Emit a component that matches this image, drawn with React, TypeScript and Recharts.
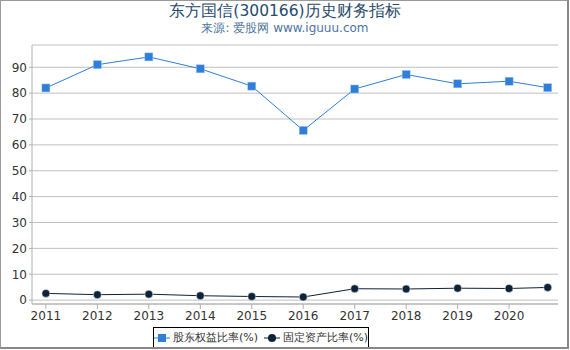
import React from 'react';
import { LineChart, Line, XAxis, YAxis, CartesianGrid } from 'recharts';

// x positions: years, last point is a partial year (Q3)
const years = [2011, 2012, 2013, 2014, 2015, 2016, 2017, 2018, 2019, 2020, 2020.75];
const equityRatio = [82.0, 91.0, 94.0, 89.4, 82.7, 65.6, 81.6, 87.2, 83.6, 84.6, 82.1];
const fixedAssetRatio = [2.6, 2.1, 2.3, 1.7, 1.4, 1.2, 4.4, 4.3, 4.6, 4.5, 4.9];
const xTicks = [2011, 2012, 2013, 2014, 2015, 2016, 2017, 2018, 2019, 2020];
const yTicks = [0, 10, 20, 30, 40, 50, 60, 70, 80, 90];

const data = years.map((x, i) => ({ x, equity: equityRatio[i], fixed: fixedAssetRatio[i] }));

const BLUE = '#2f7ed8';
const DARK = '#0d233a';
const FONT = '"DejaVu Sans", sans-serif';

const SquareDot = (props: any) => {
  const { cx, cy, index } = props;
  return <rect key={index} x={cx - 4} y={cy - 4} width={8} height={8} fill={BLUE} stroke="#9cc3f0" strokeWidth={0.5} />;
};

const CircleDot = (props: any) => {
  const { cx, cy, index } = props;
  return <circle key={index} cx={cx} cy={cy} r={4} fill={DARK} stroke="#fff" strokeWidth={0.5} />;
};

export default function App() {
  return (
    <div
      style={{
        position: 'absolute',
        left: 0,
        top: 0,
        width: 570,
        height: 350,
        fontFamily: FONT,
        background: '#fff',
      }}
    >
      <div
        style={{
          position: 'absolute',
          left: 0,
          top: 0,
          width: 566,
          height: 346,
          border: '2px solid #888',
          borderTop: '1px solid #999',
          borderLeft: '1px solid #999',
          pointerEvents: 'none',
          zIndex: 2,
        }}
      />
      <div style={{ position: 'absolute', left: 0, top: 1, width: 570, textAlign: 'center', fontSize: 15.5, color: '#274b6d' }}>
        东方国信(300166)历史财务指标
      </div>
      <div style={{ position: 'absolute', left: 0, top: 20, width: 570, textAlign: 'center', fontSize: 12, color: '#4d759e' }}>
        来源: 爱股网 www.iguuu.com
      </div>
      <LineChart width={570} height={350} data={data} margin={{ top: 45, right: 12, bottom: 16, left: 0 }}>
        <CartesianGrid vertical={false} stroke="#c0c0c0" />
        <XAxis
          dataKey="x"
          type="number"
          domain={[2010.73, 2020.95]}
          ticks={xTicks}
          interval={0}
          allowDataOverflow
          stroke="#b0b0b0"
          tickSize={5}
          tick={{ fill: '#333', fontSize: 12, fontFamily: FONT }}
        />
        <YAxis
          type="number"
          domain={[-1.5, 98.6]}
          ticks={yTicks}
          interval={0}
          allowDataOverflow
          width={32}
          stroke="#b0b0b0"
          tickSize={3}
          tick={{ fill: '#333', fontSize: 12, fontFamily: FONT }}
        />
        <Line
          dataKey="equity"
          stroke={BLUE}
          strokeWidth={1}
          dot={SquareDot}
          activeDot={false}
          isAnimationActive={false}
        />
        <Line
          dataKey="fixed"
          stroke={DARK}
          strokeWidth={1}
          dot={CircleDot}
          activeDot={false}
          isAnimationActive={false}
        />
      </LineChart>
      <div
        style={{
          position: 'absolute',
          left: 153,
          top: 327,
          width: 214,
          height: 19,
          border: '1px solid #000',
          display: 'flex',
          alignItems: 'center',
          justifyContent: 'center',
          fontSize: 11,
          lineHeight: '14px',
          whiteSpace: 'nowrap',
          color: '#333',
          gap: 3,
          background: '#fff',
        }}
      >
        <svg width={16} height={10} style={{ flexShrink: 0 }}>
          <line x1={0} y1={5} x2={16} y2={5} stroke={BLUE} strokeWidth={1} />
          <rect x={4} y={1} width={8} height={8} fill={BLUE} />
        </svg>
        <span>股东权益比率(%)</span>
        <svg width={16} height={10} style={{ flexShrink: 0, marginLeft: 3 }}>
          <line x1={0} y1={5} x2={16} y2={5} stroke={DARK} strokeWidth={1} />
          <circle cx={8} cy={5} r={4} fill={DARK} />
        </svg>
        <span>固定资产比率(%)</span>
      </div>
    </div>
  );
}
